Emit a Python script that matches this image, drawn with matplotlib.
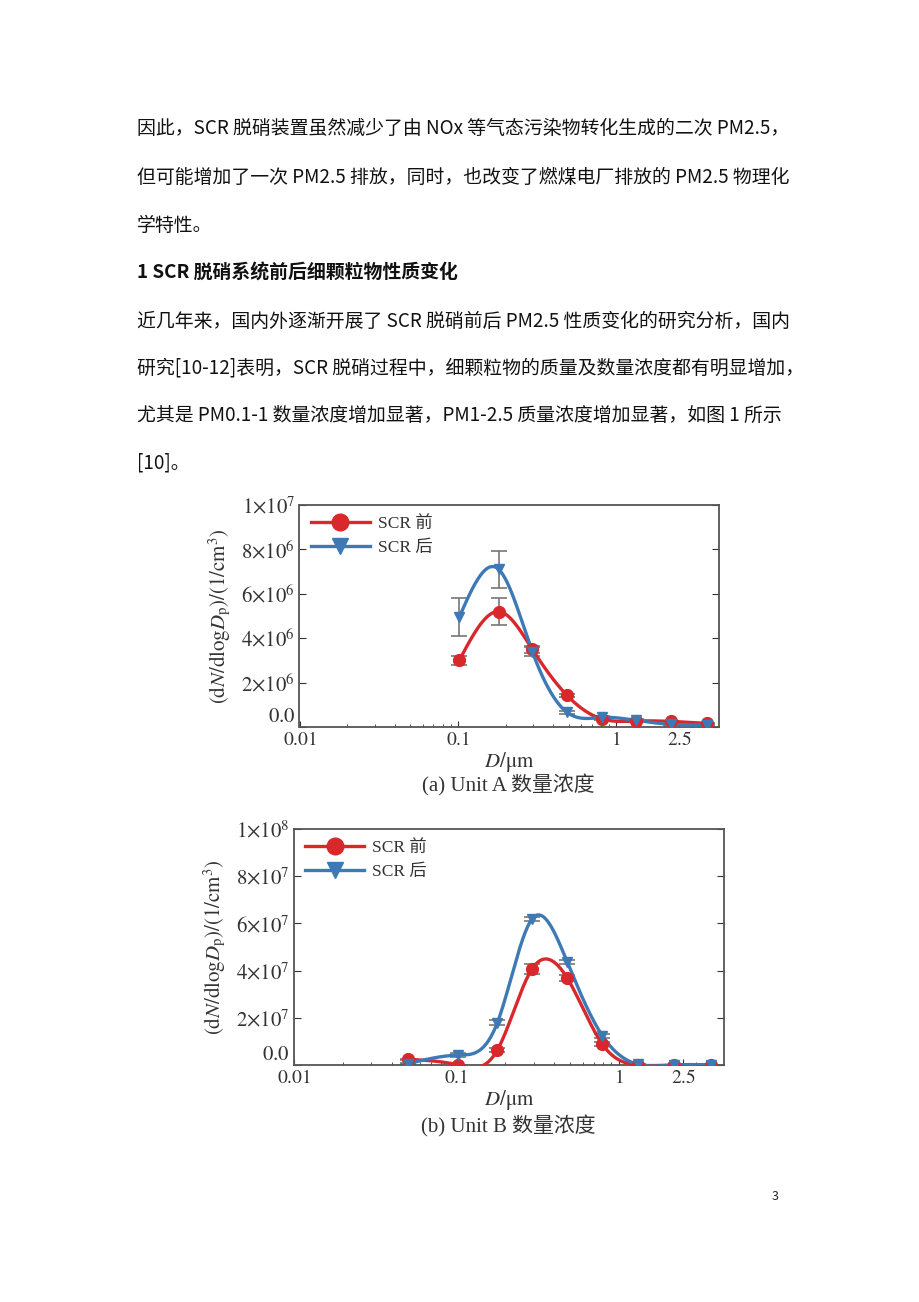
import numpy as np
import matplotlib
matplotlib.use("Agg")
import matplotlib.pyplot as plt
from matplotlib.ticker import FixedLocator, FixedFormatter, LogLocator, NullFormatter

plt.rcParams['font.family'] = ['Noto Sans CJK SC', 'DejaVu Sans']
plt.rcParams['mathtext.fontset'] = 'stix'

# ---------------- data ----------------
body_lines = [
    "因此，SCR 脱硝装置虽然减少了由 NOx 等气态污染物转化生成的二次 PM2.5，",
    "但可能增加了一次 PM2.5 排放，同时，也改变了燃煤电厂排放的 PM2.5 物理化",
    "学特性。",
    "1 SCR 脱硝系统前后细颗粒物性质变化",
    "近几年来，国内外逐渐开展了 SCR 脱硝前后 PM2.5 性质变化的研究分析，国内",
    "研究[10-12]表明，SCR 脱硝过程中，细颗粒物的质量及数量浓度都有明显增加，",
    "尤其是 PM0.1-1 数量浓度增加显著，PM1-2.5 质量浓度增加显著，如图 1 所示",
    "[10]。",
]
legend_labels = ["SCR 前", "SCR 后"]
x_ticks = [0.01, 0.1, 1, 2.5]
x_ticklabels = [r"$0.01$", r"$0.1$", r"$1$", r"$2.5$"]

# (a) Unit A
a_x = [0.102, 0.181, 0.295, 0.489, 0.815, 1.33, 2.23, 3.74]
a_before = [3.0e6, 5.2e6, 3.5e6, 1.42e6, 0.36e6, 0.27e6, 0.25e6, 0.16e6]
a_before_err = [0.2e6, 0.6e6, 0.15e6, 0.08e6, 0.05e6, 0.04e6, 0.04e6, 0.03e6]
a_after = [4.95e6, 7.1e6, 3.4e6, 0.66e6, 0.43e6, 0.30e6, 0.12e6, 0.09e6]
a_after_err = [0.87e6, 0.85e6, 0.22e6, 0.08e6, 0.06e6, 0.04e6, 0.03e6, 0.03e6]
a_yticks = [0, 2e6, 4e6, 6e6, 8e6, 1e7]
a_yticklabels = [r"$0.0$", r"$2{\times}10^{6}$", r"$4{\times}10^{6}$",
                 r"$6{\times}10^{6}$", r"$8{\times}10^{6}$", r"$1{\times}10^{7}$"]
a_caption = "(a) Unit A 数量浓度"

# (b) Unit B
b_x = [0.0506, 0.103, 0.179, 0.292, 0.482, 0.793, 1.31, 2.2, 3.7]
b_before = [2.4e6, 0.0, 6.4e6, 4.06e7, 3.68e7, 0.88e7, 0.0, 0.0, 0.0]
b_before_err = [0.3e6, 0.2e6, 0.8e6, 2.2e6, 1.2e6, 0.8e6, 0.1e6, 0.1e6, 0.1e6]
b_after = [0.6e6, 4.2e6, 1.8e7, 6.18e7, 4.36e7, 1.24e7, 0.3e6, 0.0, 0.0]
b_after_err = [0.2e6, 0.8e6, 1.2e6, 0.8e6, 1.0e6, 0.8e6, 0.1e6, 0.1e6, 0.1e6]
b_yticks = [0, 2e7, 4e7, 6e7, 8e7, 1e8]
b_yticklabels = [r"$0.0$", r"$2{\times}10^{7}$", r"$4{\times}10^{7}$",
                 r"$6{\times}10^{7}$", r"$8{\times}10^{7}$", r"$1{\times}10^{8}$"]
b_caption = "(b) Unit B 数量浓度"

RED = "#d8282c"
BLUE = "#3d7ab5"
GRAY = "#333333"
SERIF_CJK = ['Liberation Serif', 'Noto Sans CJK SC']


def natural_spline(xs, ys, xq):
    xs = np.asarray(xs, float)
    ys = np.asarray(ys, float)
    n = len(xs)
    h = np.diff(xs)
    A = np.zeros((n, n))
    r = np.zeros(n)
    A[0, 0] = 1
    A[-1, -1] = 1
    for i in range(1, n - 1):
        A[i, i - 1] = h[i - 1]
        A[i, i] = 2 * (h[i - 1] + h[i])
        A[i, i + 1] = h[i]
        r[i] = 6 * ((ys[i + 1] - ys[i]) / h[i] - (ys[i] - ys[i - 1]) / h[i - 1])
    M = np.linalg.solve(A, r)
    out = np.empty_like(xq)
    idx = np.clip(np.searchsorted(xs, xq) - 1, 0, n - 2)
    for k, (xv, i) in enumerate(zip(xq, idx)):
        hi = h[i]
        t1 = xs[i + 1] - xv
        t0 = xv - xs[i]
        out[k] = (M[i] * t1 ** 3 / (6 * hi) + M[i + 1] * t0 ** 3 / (6 * hi)
                  + (ys[i] / hi - M[i] * hi / 6) * t1
                  + (ys[i + 1] / hi - M[i + 1] * hi / 6) * t0)
    return out


def draw_panel(ax, xs, yb, eb, ya, ea, yticks, ylabels, caption):
    lx = np.log10(xs)
    q = np.linspace(lx[0], lx[-1], 400)
    for y, e, c, m, ms, lab in [(yb, eb, RED, 'o', 8.5, legend_labels[0]),
                                (ya, ea, BLUE, 'v', 7.5, legend_labels[1])]:
        ax.errorbar(xs, y, yerr=e, fmt='none', ecolor='#777777', elinewidth=1.2,
                    capsize=6, capthick=1.2, zorder=2)
        ax.plot(10 ** q, natural_spline(lx, y, q), color=c, lw=2.4, zorder=3)
        ax.plot(xs, y, linestyle='none', marker=m, ms=ms, color=c, zorder=4)
        ax.plot([], [], color=c, lw=2.4, marker=m, ms=ms + 3.5, label=lab)
    ax.set_xscale('log')
    ax.set_xlim(0.01, 4.45)
    ax.set_ylim(0, yticks[-1])
    ax.xaxis.set_major_locator(FixedLocator(x_ticks))
    ax.xaxis.set_major_formatter(FixedFormatter(x_ticklabels))
    ax.xaxis.set_minor_locator(LogLocator(base=10, subs=np.arange(2, 10)))
    ax.xaxis.set_minor_formatter(NullFormatter())
    ax.set_yticks(yticks)
    ax.set_yticklabels(ylabels)
    ax.tick_params(axis='both', which='both', direction='in', colors=GRAY,
                   right=True, top=False)
    ax.tick_params(axis='y', which='major', length=5, pad=3, labelsize=15)
    ax.tick_params(axis='x', which='major', length=4, pad=1.5, labelsize=14)
    ax.tick_params(axis='x', which='minor', length=2.5)
    for lab in ax.get_xticklabels() + ax.get_yticklabels():
        lab.set_color(GRAY)
    ax.get_yticklabels()[0].set_verticalalignment('bottom')
    for s in ax.spines.values():
        s.set_color('#555555')
        s.set_linewidth(1.3)
    ax.set_ylabel(r"$(\mathrm{d}N/\mathrm{dlog}D_{\mathrm{p}})/(1/\mathrm{cm}^{3})$",
                  fontsize=15, color=GRAY, labelpad=6)
    ax.set_xlabel(r"$D/\mathrm{\mu m}$", fontsize=15, color=GRAY, labelpad=0)
    leg = ax.legend(loc='upper left', frameon=False, handlelength=3.4,
                    borderaxespad=0.25, handletextpad=0.45, labelspacing=0.45,
                    prop={'family': SERIF_CJK, 'size': 12.5})
    for t in leg.get_texts():
        t.set_color(GRAY)
    return ax


W, H = 920, 1302
fig = plt.figure(figsize=(W / 100, H / 100), dpi=100)
fig.patch.set_facecolor('white')

line_y = [128, 177, 225, 273, 321, 368, 415, 463]
for i, (txt, yy) in enumerate(zip(body_lines, line_y)):
    fig.text(137 / W, 1 - yy / H, txt, ha='left', va='center', fontsize=13.6,
             color='#111111', fontweight='bold' if i == 3 else 'normal')

fig.text(775 / W, 1 - 1197 / H, "3", ha='center', va='center', fontsize=9,
         color='#222222')

ax1 = fig.add_axes([299.5 / W, 1 - 727 / H, 419.5 / W, 222 / H])
draw_panel(ax1, a_x, a_before, a_before_err, a_after, a_after_err,
           a_yticks, a_yticklabels, a_caption)
fig.text(508 / W, 1 - 785 / H, a_caption, ha='center', va='center',
         fontsize=15, color=GRAY, family=SERIF_CJK)

ax2 = fig.add_axes([294 / W, 1 - 1065 / H, 430 / W, 236 / H])
draw_panel(ax2, b_x, b_before, b_before_err, b_after, b_after_err,
           b_yticks, b_yticklabels, b_caption)
fig.text(508 / W, 1 - 1126 / H, b_caption, ha='center', va='center',
         fontsize=15, color=GRAY, family=SERIF_CJK)

fig.savefig("out.png", dpi=100, facecolor='white')
